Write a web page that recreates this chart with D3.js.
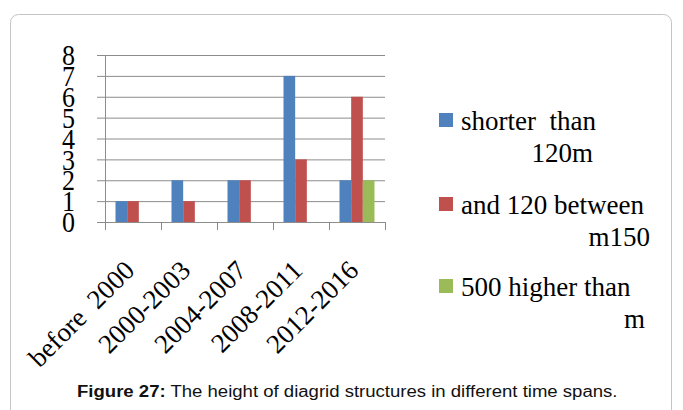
<!DOCTYPE html>
<html>
<head>
<meta charset="utf-8">
<script src="https://cdn.jsdelivr.net/npm/d3@7"></script>
<style>
  body { margin: 0; background: #fff; }
</style>
</head>
<body>
<div id="chart"></div>
<script>
const periods = ['before  2000', '2000-2003', '2004-2007', '2008-2011', '2012-2016'];
const seriesNames = ['shorter than 120m', 'between 120 and 150m', 'higher than 500 m'];
const shorter = [1, 2, 2, 7, 2];
const between = [1, 1, 2, 3, 6];
const higher = [0, 0, 0, 0, 2];
const yTicks = [0, 1, 2, 3, 4, 5, 6, 7, 8];
const legendLines = [['shorter  than', '120m'], ['and 120 between', 'm150'], ['500 higher than', 'm']];
const colors = ['#4F81BD', '#C0504D', '#9BBB59'];

const width = 683, height = 410;
const margin = {top: 55, left: 105, right: 298, bottom: 188};

const svg = d3.select('#chart').append('svg')
    .attr('width', width)
    .attr('height', height);

// frame
svg.append('rect')
    .attr('x', 10.5).attr('y', 14.5)
    .attr('width', 661).attr('height', 420)
    .attr('rx', 8)
    .style('fill', 'none')
    .style('stroke', '#c4c4c4');

const x = d3.scaleBand()
    .domain(periods)
    .range([margin.left, width - margin.right]);

const x1 = d3.scaleBand()
    .domain(seriesNames)
    .range([0, x.bandwidth()])
    .paddingOuter(0.9);

const y = d3.scaleLinear()
    .domain([0, 8])
    .range([height - margin.bottom, margin.top]);

// gridlines
svg.append('g').selectAll('line').data(yTicks).enter().append('line')
    .attr('x1', margin.left - 8).attr('x2', width - margin.right)
    .attr('y1', d => y(d) + 0.5).attr('y2', d => y(d) + 0.5)
    .style('stroke', '#8c8c8c').style('stroke-width', 1);

// y axis line
svg.append('line')
    .attr('x1', margin.left + 0.5).attr('x2', margin.left + 0.5)
    .attr('y1', y(8)).attr('y2', y(0) + 8)
    .style('stroke', '#8c8c8c');

// x ticks
const boundaries = periods.map(p => x(p)).concat([x(periods[periods.length - 1]) + x.bandwidth()]);
svg.append('g').selectAll('line').data(boundaries).enter().append('line')
    .attr('x1', d => Math.round(d) + 0.5).attr('x2', d => Math.round(d) + 0.5)
    .attr('y1', y(0)).attr('y2', y(0) + 8)
    .style('stroke', '#8c8c8c');

// bars
const series = [shorter, between, higher];
series.forEach(function(vals, i) {
    svg.append('g').selectAll('rect').data(vals).enter().append('rect')
        .attr('x', (d, j) => x(periods[j]) + x1(seriesNames[i]))
        .attr('y', d => y(d))
        .attr('width', x1.bandwidth())
        .attr('height', d => y(0) - y(d))
        .style('fill', colors[i]);
});

// y labels
svg.append('g').selectAll('text').data(yTicks).enter().append('text')
    .attr('transform', d => `translate(75, ${y(d)}) scale(1, 1.15)`)
    .attr('dy', '0.34em')
    .style('text-anchor', 'end')
    .style('font-family', '"Liberation Serif", serif')
    .style('font-size', '26px')
    .text(d => d);

// x labels
svg.append('g').selectAll('text').data(periods).enter().append('text')
    .attr('transform', d => `translate(${x(d) + x.bandwidth() / 2 + 3}, ${y(0) + 50}) rotate(-45)`)
    .style('text-anchor', 'end')
    .style('font-family', '"Liberation Serif", serif')
    .style('font-size', '27px')
    .style('white-space', 'pre')
    .text(d => d);

// legend
const legend = svg.append('g');
const legendY = [113, 197, 279];
legendLines.forEach(function(lines, i) {
    const g = legend.append('g').attr('transform', `translate(439, ${legendY[i]})`);
    g.append('rect').attr('width', 14).attr('height', 14).style('fill', colors[i]);
    g.append('text')
        .attr('x', 22).attr('y', 17)
        .style('font-family', '"Liberation Serif", serif')
        .style('font-size', '27px')
        .style('white-space', 'pre')
        .text(lines[0]);
});
const secondLineEnd = [593, 650, 645];
legendLines.forEach(function(lines, i) {
    legend.append('text')
        .attr('x', secondLineEnd[i]).attr('y', legendY[i] + 49)
        .style('text-anchor', 'end')
        .style('font-family', '"Liberation Serif", serif')
        .style('font-size', '27px')
        .text(lines[1]);
});

// caption
const caption = svg.append('text')
    .attr('transform', 'translate(77, 397) scale(1.16, 1)')
    .style('font-family', '"Liberation Sans", Arial, sans-serif')
    .style('font-size', '16px')
    .style('fill', '#111');
caption.append('tspan').style('font-weight', 'bold').text('Figure 27:');
caption.append('tspan').text(' The height of diagrid structures in different time spans.');
</script>
</body>
</html>
